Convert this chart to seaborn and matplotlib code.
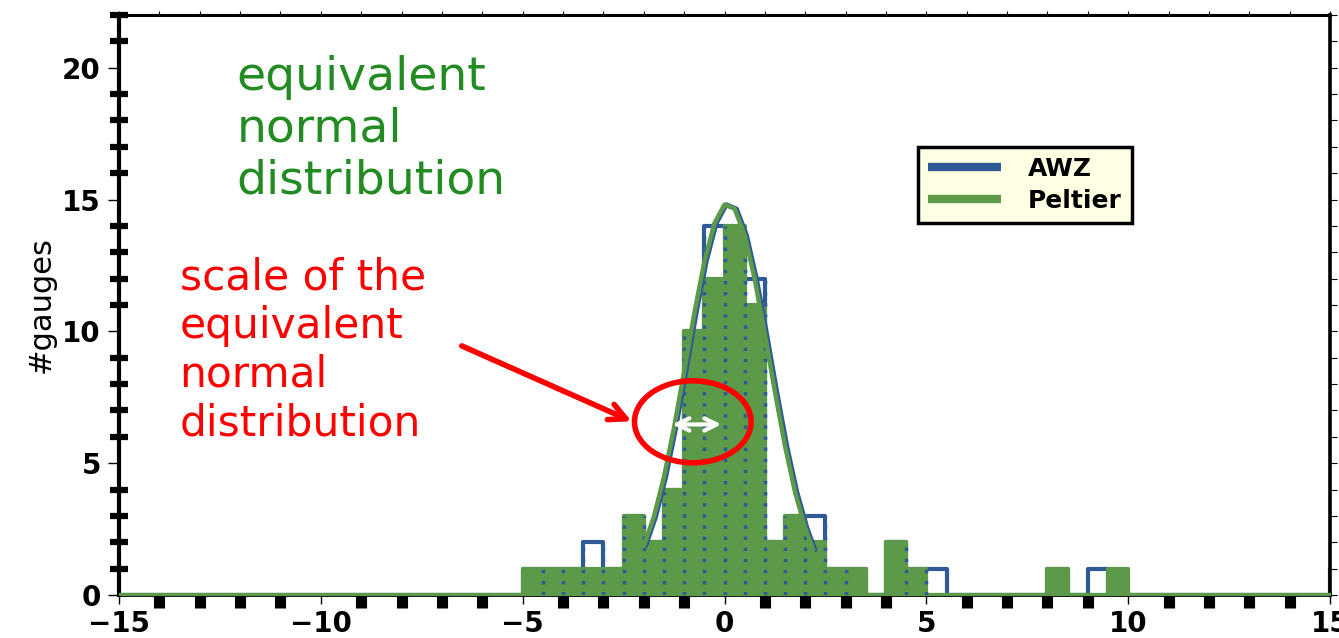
import numpy as np
import pandas as pd
import matplotlib
matplotlib.use("Agg")
import matplotlib.pyplot as plt
import seaborn as sns
from matplotlib.patches import Ellipse
from matplotlib.lines import Line2D

# ---------------- data ----------------
bin_left = [-5.0, -4.5, -4.0, -3.5, -3.0, -2.5, -2.0, -1.5, -1.0, -0.5,
            0.0, 0.5, 1.0, 1.5, 2.0, 2.5, 3.0, 3.5, 4.0, 4.5,
            5.0, 5.5, 6.0, 6.5, 7.0, 7.5, 8.0, 8.5, 9.0, 9.5,
            10.0, 10.5, 11.0, 11.5, 12.0, 12.5, 13.0, 13.5, 14.0, 14.5, 15.0]
awz_counts = [1, 1, 1, 2, 1, 3, 2, 4, 10, 14,
              13, 12, 2, 3, 3, 1, 1, 0, 2, 1,
              1, 0, 0, 0, 0, 0, 1, 0, 1, 0,
              0, 0, 0, 0, 0, 0, 0, 0, 0, 0, 1]
peltier_counts = [1, 1, 1, 1, 1, 3, 2, 4, 10, 12,
                  14, 11, 2, 3, 2, 1, 1, 0, 2, 1,
                  0, 0, 0, 0, 0, 0, 1, 0, 0, 1,
                  0, 0, 0, 0, 0, 0, 0, 0, 0, 0, 0]
bin_width = 0.5

# equivalent normal distributions
peltier_curve_x = [-2.0, -1.75, -1.5, -1.25, -1.0, -0.75, -0.5, -0.25, 0.0,
                   0.25, 0.5, 0.75, 1.0, 1.25, 1.5, 1.75, 2.0, 2.2]
peltier_curve_y = [1.86, 2.97, 4.48, 6.35, 8.48, 10.67, 12.64, 14.10, 14.81,
                   14.65, 13.65, 11.97, 9.89, 7.70, 5.64, 3.89, 2.53, 1.71]
awz_curve_x = [-1.95, -1.7, -1.45, -1.2, -0.95, -0.7, -0.45, -0.2, 0.05,
               0.3, 0.55, 0.8, 1.05, 1.3, 1.55, 1.8, 2.05, 2.25]
awz_curve_y = [1.86, 2.97, 4.48, 6.35, 8.48, 10.67, 12.64, 14.10, 14.81,
               14.65, 13.65, 11.97, 9.89, 7.70, 5.64, 3.89, 2.53, 1.71]

series_names = ["AWZ", "Peltier"]
x_major = [-15, -10, -5, 0, 5, 10, 15]
y_major = [0, 5, 10, 15, 20]

BLUE = "#2E5A98"
GREEN = "#5C9A49"
TXT_GREEN = "#228B22"
RED = "#FF0000"

# ---------------- figure ----------------
sns.set_style("white")
plt.rcParams["font.family"] = ["DejaVu Sans"]
plt.rcParams.update({"text.color": "black", "axes.labelcolor": "black",
                     "xtick.color": "black", "ytick.color": "black",
                     "axes.edgecolor": "black"})

fig = plt.figure(figsize=(13.39, 6.38), dpi=100)
ax = fig.add_axes([119 / 1339, 1 - 595 / 638, (1330 - 119) / 1339, (595 - 15) / 638])

df = pd.DataFrame({
    "center": np.array(bin_left) + bin_width / 2,
    "awz": awz_counts,
    "peltier": peltier_counts,
})

# AWZ outline (below)
sns.histplot(data=df, x="center", weights="awz", binwidth=bin_width,
             binrange=(-15, 15.5), element="step", fill=False, color=BLUE,
             linewidth=3, ax=ax, zorder=2)
# Peltier filled
sns.histplot(data=df, x="center", weights="peltier", binwidth=bin_width,
             binrange=(-15, 15.5), element="step", fill=True, color=GREEN,
             alpha=1, edgecolor=GREEN, linewidth=3, ax=ax, zorder=3)

# dotted AWZ bar edges showing through the fill
ed = np.array(bin_left)
cnt = np.array(awz_counts)
for i in range(1, len(ed)):
    if cnt[i - 1] > 0 and cnt[i] > 0:
        ax.vlines(ed[i], 0, max(cnt[i - 1], cnt[i]), colors=BLUE,
                  linestyles=(0, (1, 2.2)), linewidth=2.5, zorder=3.5)

# normal curves
sns.lineplot(x=awz_curve_x, y=awz_curve_y, color=BLUE, linewidth=3.2,
             ax=ax, zorder=4)
sns.lineplot(x=peltier_curve_x, y=peltier_curve_y, color=GREEN, linewidth=3.2,
             ax=ax, zorder=4.5)

ax.set_xlim(-15, 15)
ax.set_ylim(0, 22)
ax.set_xlabel("")
ax.set_ylabel("#gauges", fontsize=22, color="black")
ax.yaxis.set_label_coords(-0.052, 0.5)

# ticks
ax.set_xticks(x_major)
ax.set_xticks(range(-15, 16), minor=True)
ax.set_yticks(y_major)
ax.set_yticks(range(0, 23), minor=True)
ax.tick_params(axis="x", which="major", direction="out", length=6.5, width=1,
               labelsize=20, pad=4, bottom=True, top=False, colors="black")
ax.tick_params(axis="x", which="minor", direction="out", length=9, width=8,
               color="black", bottom=True, top=False)
ax.tick_params(axis="y", which="major", direction="out", length=8, width=1,
               labelsize=20, pad=5, left=True, right=False, colors="black")
ax.tick_params(axis="y", which="minor", direction="inout", length=12.5, width=4.5,
               color="black", left=True, right=False)
plt.setp(ax.get_xticklabels(), fontweight="bold", color="black")
plt.setp(ax.get_yticklabels(), fontweight="bold", color="black")

ax.spines["left"].set_linewidth(3)
ax.spines["bottom"].set_linewidth(2)
ax.spines["top"].set_linewidth(2.2)
ax.spines["right"].set_linewidth(2.6)
for s in ax.spines.values():
    s.set_color("black")
    s.set_visible(True)

sec_top = ax.secondary_xaxis("top")
sec_top.set_xticks(range(-15, 16))
sec_top.tick_params(direction="out", length=3, width=0.8, labeltop=False, colors="black")
sec_right = ax.secondary_yaxis("right")
sec_right.set_yticks(range(0, 23))
sec_right.tick_params(direction="out", length=5, width=0.8, labelright=False, colors="black")
for sa in (sec_top, sec_right):
    for sp in sa.spines.values():
        sp.set_visible(False)

# annotations
ax.text(-12.09, 20.5, "equivalent\nnormal\ndistribution", color=TXT_GREEN,
        fontsize=34, ha="left", va="top", linespacing=1.2, zorder=6)
ax.text(-13.5, 12.85, "scale of the\nequivalent\nnormal\ndistribution", color=RED,
        fontsize=30.4, ha="left", va="top", linespacing=1.2, zorder=6)
ax.annotate("", xy=(-2.30, 6.59), xytext=(-6.51, 9.45),
            arrowprops=dict(arrowstyle="->", color=RED, lw=4, mutation_scale=30,
                            shrinkA=0, shrinkB=0), zorder=6)
ax.add_patch(Ellipse((-0.785, 6.57), 2.89, 3.11, fill=False, edgecolor=RED,
                     linewidth=4, zorder=6))
ax.annotate("", xy=(-0.08, 6.47), xytext=(-1.29, 6.47),
            arrowprops=dict(arrowstyle="<->", color="white", lw=3, mutation_scale=22,
                            shrinkA=0, shrinkB=0), zorder=6)

# legend
handles = [Line2D([0], [0], color=BLUE, lw=6, solid_capstyle="butt"),
           Line2D([0], [0], color=GREEN, lw=6, solid_capstyle="butt")]
leg = ax.legend(handles, series_names, loc="upper left",
                bbox_to_anchor=(918 / 1339, 1 - 147 / 638), bbox_transform=fig.transFigure,
                frameon=True, fancybox=False, edgecolor="black", facecolor="#FFFFE3",
                framealpha=1, prop=dict(family="DejaVu Sans", weight="bold", size=18),
                handlelength=2.9, handletextpad=1.1, borderpad=0.4, labelspacing=0.3,
                borderaxespad=0)
leg.get_frame().set_linewidth(2.5)
for t in leg.get_texts():
    t.set_color("black")
leg.set_zorder(10)

fig.savefig("out.png", dpi=100, facecolor="white")
